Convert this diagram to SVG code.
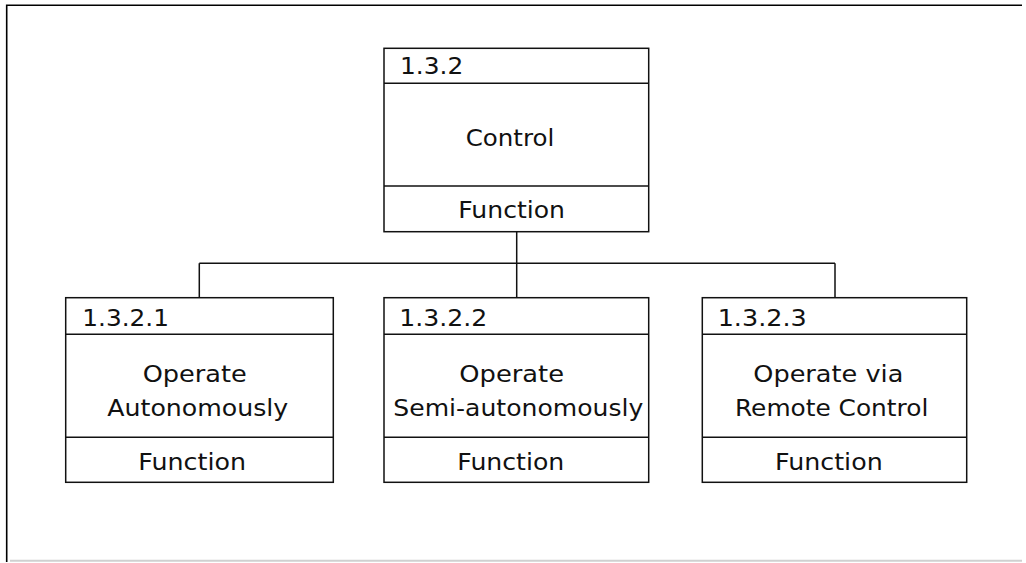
<svg xmlns="http://www.w3.org/2000/svg" width="1026" height="563" viewBox="0 0 1026 563">
<style>
.box{fill:#fff;stroke:#111;stroke-width:1.5}
.div{stroke:#111;stroke-width:1.5}
.t{font-family:"DejaVu Sans",Verdana,sans-serif;font-size:23px;fill:#111}
.con{fill:none;stroke:#111;stroke-width:1.5}
</style>
<rect width="1026" height="563" fill="#fff"/>
<g id="frame">
<path d="M6.7,562 V5.3 H1022" fill="none" stroke="#000" stroke-width="1.6"/>
<line x1="10" y1="560.7" x2="1022" y2="560.7" stroke="#d0d0d0" stroke-width="2"/>
</g>
<g id="connectors">
<path class="con" d="M516.7,232 V263.3 M199.3,263.3 H835 M199.3,263.3 V298 M516.7,263.3 V298 M835,263.3 V298"/>
</g>
<g id="n132">
<rect class="box" x="384" y="48.3" width="264.7" height="183.4"/>
<line class="div" x1="384" y1="83.3" x2="648.7" y2="83.3"/>
<line class="div" x1="384" y1="186" x2="648.7" y2="186"/>
<text class="t" x="400" y="74" textLength="63.3" lengthAdjust="spacingAndGlyphs">1.3.2</text>
<text class="t" x="465.7" y="146" textLength="88.6" lengthAdjust="spacingAndGlyphs">Control</text>
<text class="t" x="458.3" y="218.3" textLength="106.7" lengthAdjust="spacingAndGlyphs">Function</text>
</g>
<g id="n1321">
<rect class="box" x="65.7" y="297.7" width="267.6" height="184.6"/>
<line class="div" x1="65.7" y1="334.3" x2="333.3" y2="334.3"/>
<line class="div" x1="65.7" y1="437.3" x2="333.3" y2="437.3"/>
<text class="t" x="82.3" y="326" textLength="86.7" lengthAdjust="spacingAndGlyphs">1.3.2.1</text>
<text class="t" x="142.7" y="381.7" textLength="104" lengthAdjust="spacingAndGlyphs">Operate</text>
<text class="t" x="107.3" y="415.7" textLength="181" lengthAdjust="spacingAndGlyphs">Autonomously</text>
<text class="t" x="138.3" y="470" textLength="107.7" lengthAdjust="spacingAndGlyphs">Function</text>
</g>
<g id="n1322">
<rect class="box" x="384" y="297.7" width="264.7" height="184.6"/>
<line class="div" x1="384" y1="334.3" x2="648.7" y2="334.3"/>
<line class="div" x1="384" y1="437.3" x2="648.7" y2="437.3"/>
<text class="t" x="399.3" y="326" textLength="88" lengthAdjust="spacingAndGlyphs">1.3.2.2</text>
<text class="t" x="459.3" y="381.7" textLength="104.7" lengthAdjust="spacingAndGlyphs">Operate</text>
<text class="t" x="393.3" y="415.7" textLength="250" lengthAdjust="spacingAndGlyphs">Semi-autonomously</text>
<text class="t" x="457.3" y="470" textLength="107" lengthAdjust="spacingAndGlyphs">Function</text>
</g>
<g id="n1323">
<rect class="box" x="702.3" y="297.7" width="264.4" height="184.6"/>
<line class="div" x1="702.3" y1="334.3" x2="966.7" y2="334.3"/>
<line class="div" x1="702.3" y1="437.3" x2="966.7" y2="437.3"/>
<text class="t" x="717.7" y="326" textLength="89" lengthAdjust="spacingAndGlyphs">1.3.2.3</text>
<text class="t" x="753.3" y="381.7" textLength="150" lengthAdjust="spacingAndGlyphs">Operate via</text>
<text class="t" x="735" y="415.7" textLength="193.3" lengthAdjust="spacingAndGlyphs">Remote Control</text>
<text class="t" x="775" y="470" textLength="107.7" lengthAdjust="spacingAndGlyphs">Function</text>
</g>
</svg>
